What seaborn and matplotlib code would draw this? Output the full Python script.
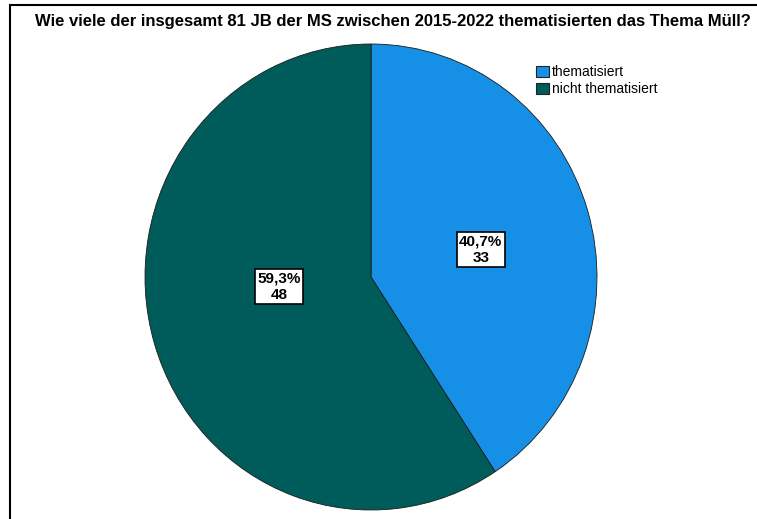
import matplotlib
matplotlib.use("Agg")
import matplotlib.pyplot as plt
import seaborn as sns
import numpy as np
from matplotlib.patches import Rectangle

sns.set_theme(style="white")
plt.rcParams['font.family'] = ['Liberation Sans', 'DejaVu Sans']
plt.rcParams['text.color'] = 'black'

title = "Wie viele der insgesamt 81 JB der MS zwischen 2015-2022 thematisierten das Thema Müll?"
categories = ["thematisiert", "nicht thematisiert"]
counts = [33, 48]
colors = ["#1590E6", "#005C5A"]

W, H = 757, 519
fig = plt.figure(figsize=(W / 100, H / 100), dpi=100)

# outer frame
fig.patches.append(Rectangle((10 / W, -0.1), 1.2, (H - 5) / H + 0.1, transform=fig.transFigure,
                             fill=False, edgecolor="black", linewidth=1.5))

cx, cy, rx, ry = 371, 277, 226, 233
ax = fig.add_axes([(cx - rx) / W, (H - cy - ry) / H, 2 * rx / W, 2 * ry / H])
total = sum(counts)
wedges, _ = ax.pie(counts, colors=colors, startangle=90, counterclock=False,
                   wedgeprops=dict(edgecolor="#1a1a1a", linewidth=0.6))
ax.set_aspect("auto")
ax.set_xlim(-1, 1)
ax.set_ylim(-1, 1)
ax.axis("off")

label_r = [0.50, 0.41]
label_shift = [-3, -11]
for w, c, r, s in zip(wedges, counts, label_r, label_shift):
    ang = np.deg2rad((w.theta1 + w.theta2) / 2 + s)
    pct = f"{100 * c / total:.1f}".replace(".", ",") + "%"
    ax.text(r * np.cos(ang), r * np.sin(ang), f"{pct}\n{c}", ha="center", va="center",
            fontsize=11, fontweight="bold", color="black", linespacing=1.2,
            bbox=dict(boxstyle="square,pad=0.15", facecolor="white", edgecolor="black", linewidth=1.2))

fig.text(393 / W, 1 - 22 / H, title, ha="center", va="center", fontsize=12.0, fontweight="bold")

handles = [Rectangle((0, 0), 1, 1, facecolor=col, edgecolor="#222222", linewidth=0.8) for col in colors]
fig.legend(handles, categories, loc="upper left", bbox_to_anchor=(535 / W, 1 - 64 / H),
           frameon=False, fontsize=10, handlelength=0.9, handleheight=0.9, handletextpad=0.2,
           labelspacing=0.2, borderpad=0.1, borderaxespad=0)

fig.savefig("out.png", dpi=100)
